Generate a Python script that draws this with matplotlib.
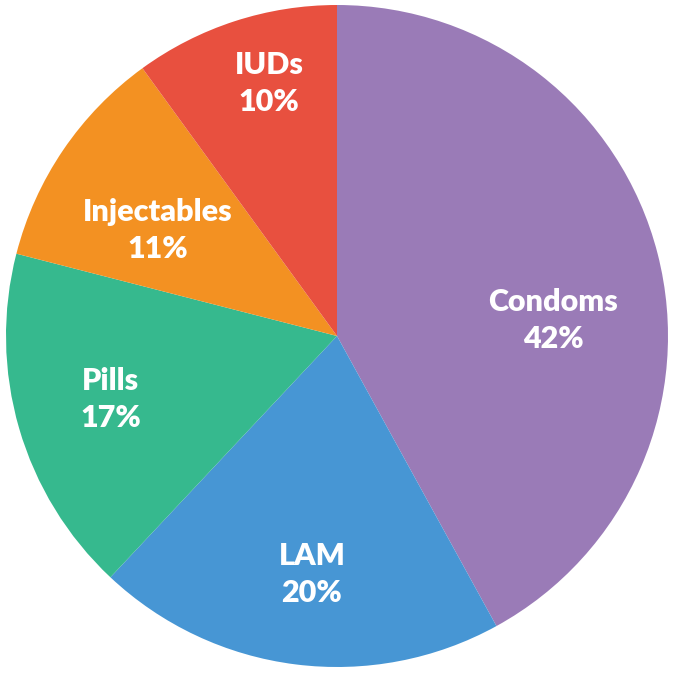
import numpy as np
import matplotlib
matplotlib.use("Agg")
import matplotlib.pyplot as plt

labels = ["Condoms", "LAM", "Pills", "Injectables", "IUDs"]
shares = [42, 20, 17, 11, 10]
colors = ["#9A7BB7", "#4796D4", "#36B98E", "#F39122", "#E8503F"]
# where each label sits inside its slice (fraction of radius, angle nudge in degrees)
label_r = [0.655, 0.725, 0.71, 0.63, 0.79]
label_nudge = [-10.2, 1.2, -0.5, 3.7, -3.0]

fig = plt.figure(figsize=(6.74, 6.73), dpi=100)
ax = fig.add_axes([0, 0, 1, 1])
wedges, _ = ax.pie(shares, colors=colors, startangle=90, counterclock=False,
                   radius=1.0, center=(0, 0))

for w, lab, s, r, nd in zip(wedges, labels, shares, label_r, label_nudge):
    mid = np.deg2rad((w.theta1 + w.theta2) / 2 + nd)
    ax.text(r * np.cos(mid), r * np.sin(mid), f"{lab}\n{s}%", ha="center", va="center",
            color="white", fontsize=22, fontweight="heavy", family="Lato",
            linespacing=1.4)

# pie radius ~331px, centre at (337, 336) in the 674x673 image
px = 1 / 331
ax.set_xlim(-337 * px, (674 - 337) * px)
ax.set_ylim(-(673 - 336) * px, 336 * px)
ax.set_aspect("auto")
ax.axis("off")
fig.savefig("out.png", dpi=100)
